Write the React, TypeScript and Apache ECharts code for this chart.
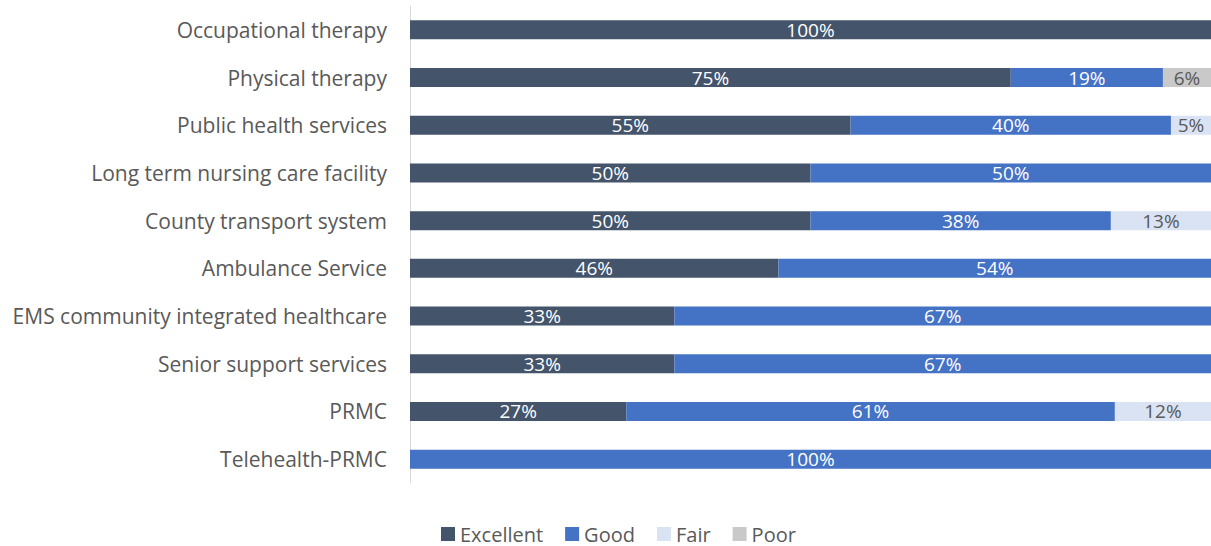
import React, { useEffect, useRef } from "react";
import * as echarts from "echarts";

const categories = [
  "Occupational therapy",
  "Physical therapy",
  "Public health services",
  "Long term nursing care facility",
  "County transport system",
  "Ambulance Service",
  "EMS community integrated healthcare",
  "Senior support services",
  "PRMC",
  "Telehealth-PRMC",
];
const excellent = [100, 75, 55, 50, 50, 46, 33, 33, 27, 0];
const good = [0, 19, 40, 50, 37.5, 54, 67, 67, 61, 100];
const fair = [0, 0, 5, 0, 12.5, 0, 0, 0, 12, 0];
const poor = [0, 6, 0, 0, 0, 0, 0, 0, 0, 0];

const FONT = "'Open Sans', sans-serif";

export default function App() {
  const ref = useRef<HTMLDivElement>(null);
  useEffect(() => {
    const chart = echarts.init(ref.current!, null, { renderer: "svg" });
    const mk = (name: string, data: number[], color: string, labelColor: string) => ({
      name,
      type: "bar",
      stack: "total",
      data: data.map((v) => (v === 0 ? null : v)),
      barWidth: 19,
      itemStyle: { color },
      label: {
        show: true,
        position: "inside",
        color: labelColor,
        fontFamily: FONT,
        fontSize: 19,
        formatter: (p: any) => Math.round(p.value) + "%",
      },
    });
    chart.setOption({
      animation: false,
      grid: { left: 410, right: 0, top: 6, bottom: 63, containLabel: false },
      xAxis: { type: "value", min: 0, max: 100, show: false },
      yAxis: {
        type: "category",
        data: categories,
        inverse: true,
        axisLine: { show: true, lineStyle: { color: "#D9D9D9", width: 1 } },
        axisTick: { show: false },
        axisLabel: { color: "#595959", fontFamily: FONT, fontSize: 21, margin: 23 },
      },
      legend: {
        top: 519,
        left: 436,
        itemWidth: 14,
        itemHeight: 14,
        itemGap: 22,
        icon: "rect",
        textStyle: { color: "#595959", fontFamily: FONT, fontSize: 20 },
        data: ["Excellent", "Good", "Fair", "Poor"],
      },
      series: [
        mk("Excellent", excellent, "#44546A", "#FFFFFF"),
        mk("Good", good, "#4472C4", "#FFFFFF"),
        mk("Fair", fair, "#DAE3F3", "#595959"),
        mk("Poor", poor, "#C9C9C9", "#595959"),
      ],
    });
    return () => chart.dispose();
  }, []);
  return (
    <div
      ref={ref}
      style={{ position: "fixed", left: 0, top: 0, width: 1211, height: 546, background: "#fff" }}
    />
  );
}
